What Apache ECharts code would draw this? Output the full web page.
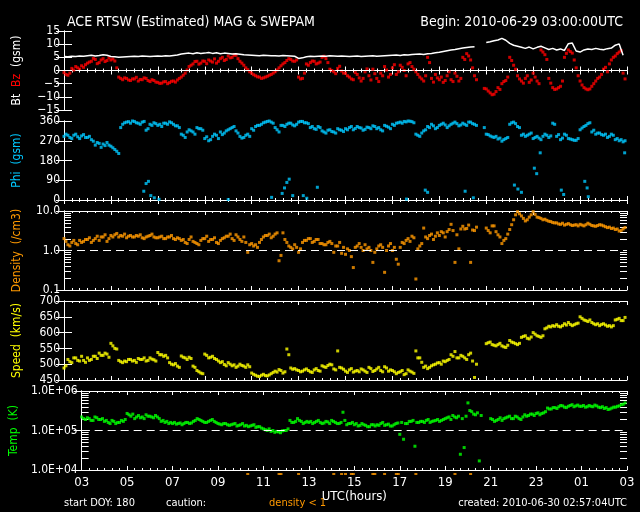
<!DOCTYPE html>
<html><head><meta charset="utf-8">
<script src="https://cdn.jsdelivr.net/npm/echarts@6/dist/echarts.min.js"></script>
<style>html,body{margin:0;padding:0;background:#000}#c{width:640px;height:512px}</style>
</head><body><div id="c"></div>
<script>
// x: hours since 2010-06-29 03:00 UTC. Bt: one value per 10 min; others: one value per 5 min
const hourLabels = ['03','05','07','09','11','13','15','17','19','21','23','01','03'];
const bt = [
5.3,5.2,5.4,5.3,5.5,5.4, 5.6,5.8,5.5,5.7,6.0,5.8, 5.3,5.2,5.0,5.1,5.2,5.3, 5.4,5.3,5.5,5.4,5.3,5.4,
5.5,5.4,5.6,5.5,5.7,5.9, 6.3,6.5,6.6,6.4,6.7,6.5, 6.6,6.8,6.5,6.7,6.4,6.6, 6.5,6.3,6.4,6.2,6.0,5.9,
5.8,5.7,5.6,5.8,5.7,5.6, 5.6,5.5,5.7,5.6,5.5,5.4, 4.6,4.8,5.2,5.4,5.3,5.4, 5.5,5.4,5.6,5.5,5.4,5.5,
5.4,5.3,5.4,5.5,5.3,5.4, 5.5,5.6,5.4,5.5,5.6,5.7, 5.8,5.9,5.7,6.0,5.9,6.1, 6.2,6.3,6.1,6.4,6.5,6.7,
6.9,7.2,7.5,7.8,8.0,8.3, 8.5,8.7,8.9,9.0,null,null, 10.6,10.9,11.3,11.6,12.2,11.5, 10.3,9.6,9.2,8.8,8.4,8.9,
8.2,8.8,9.2,8.6,8.0,8.4, 7.8,8.2,7.6,10.2,10.4,7.4, 7.0,7.8,8.2,8.0,8.4,8.1, 7.9,8.3,8.5,9.6,10.1,5.8];
const bz = [
-0.8,-1.5,-1.8,-1.0,0.8,0.2,1.5,1.0,0.5,1.8,1.2,2.2,
2.8,3.2,3.5,4.6,4.2,2.6,3.0,4.0,4.5,3.4,3.8,4.8,
4.0,4.4,3.6,1.0,-2.5,-3.0,-3.5,-2.8,-3.0,-3.6,-3.8,-3.2,
-3.2,-2.6,-4.0,-3.4,-3.5,-2.8,-3.0,-3.8,-4.2,-3.5,-3.8,-4.4,
-4.5,-4.9,-4.8,-4.3,-4.2,-5.0,-4.6,-4.1,-4.0,-4.4,-3.6,-3.0,
-2.5,-1.8,-1.0,0.2,1.5,2.0,2.5,3.4,3.5,2.4,2.8,3.6,
3.5,2.6,4.0,3.6,3.2,4.4,2.8,3.5,4.5,5.0,3.8,4.2,
5.5,4.8,5.0,5.8,5.8,4.5,3.5,2.8,2.0,1.0,0.3,-0.5,
-1.0,-1.6,-2.0,-2.4,-2.5,-3.0,-2.8,-2.5,-2.2,-1.8,-1.5,-1.0,
-0.5,0.2,1.0,1.8,2.5,3.0,3.8,4.5,4.2,3.6,3.5,4.0,
-2.5,-3.2,-3.0,-1.0,2.5,2.0,3.0,3.6,3.5,2.5,2.8,3.2,
5.0,5.4,4.5,3.0,0.5,0.0,-0.5,-1.2,0.8,1.6,-0.2,-1.0,
-1.0,-2.0,-2.5,-3.2,-3.5,-0.8,-1.5,-2.8,-4.0,-3.0,-0.5,0.6,
-2.0,-3.6,0.5,-1.2,-3.0,-4.2,-1.0,-2.0,1.5,0.2,-2.5,-1.5,
1.0,2.2,-1.5,-0.5,2.0,1.2,0.0,-2.0,2.5,3.0,1.5,0.5,
-0.5,-1.5,-2.5,-3.2,-4.0,-2.0,5.0,3.0,-3.0,-4.4,-1.5,-2.8,
-3.5,-2.5,-4.5,-3.8,-2.0,-0.5,-3.5,-4.2,-1.0,-2.2,-4.0,-3.0,
5.0,4.2,6.4,5.5,4.0,1.0,-2.0,-3.5,null,null,null,-6.8,
-7.0,-7.8,-8.5,-9.2,-9.0,-8.0,-6.5,-7.2,-5.0,-4.2,-3.8,-2.5,
5.0,3.8,2.0,0.5,-2.0,-3.2,-4.0,-4.8,-3.0,-2.0,-4.5,-3.6,
-1.0,-2.5,-4.0,-5.0,7.8,7.0,6.0,4.2,-3.0,-4.8,-6.5,-7.2,
-7.0,-6.5,-6.0,-4.0,5.0,6.5,7.8,7.2,6.6,4.0,1.0,-2.0,
-4.0,-5.5,-6.5,-7.0,-7.3,-7.0,-6.0,-5.0,-4.0,-3.0,-2.5,-1.5,
0.5,1.2,-0.5,2.5,4.0,5.0,5.5,6.4,7.0,7.6,-1.0,-3.2];
const phi = [
290,300,295,285,280,295,300,288,280,292,298,285,
285,290,275,268,250,262,258,240,255,248,262,250,
245,238,230,222,212,330,345,352,355,357,350,360,
358,352,350,345,355,358,318,325,345,340,352,348,
340,345,335,350,350,345,356,352,345,338,338,330,
300,295,285,310,320,315,310,300,330,325,325,318,
280,288,270,275,290,300,295,280,310,298,305,315,
320,325,330,335,315,305,290,282,285,295,300,290,
325,318,335,340,340,345,352,355,358,360,355,350,
330,320,310,340,340,335,345,350,350,342,338,345,
355,358,358,352,352,348,330,335,325,322,335,330,
315,310,305,318,320,312,310,305,325,320,318,312,
325,320,330,335,320,326,335,330,328,318,322,332,
330,325,338,335,325,330,320,315,340,336,332,325,
345,340,350,352,355,350,358,356,360,359,357,352,
300,295,290,305,315,320,335,330,345,338,325,330,
340,345,350,342,330,338,345,350,355,348,338,342,
350,345,340,355,355,348,345,340,null,null,null,330,
300,298,292,288,285,290,278,282,268,275,280,285,
345,352,355,348,335,330,295,300,290,295,300,305,
280,285,290,282,275,290,300,295,285,292,350,345,
290,298,275,282,300,295,280,278,275,272,272,280,
320,328,335,340,348,352,310,318,300,305,305,298,
295,300,285,290,300,295,275,280,270,275,265,270];
const phiWrapHours  = [3.4,3.5,3.6,3.7,3.85,4.05,7.0,8.85,9.3,9.4,9.5,9.6,9.75,10.2,10.35,10.8,14.6,15.4,15.5,17.1,17.45,19.2,19.35,19.5,20.05,20.15,20.3,21.2,21.3,22.2,22.3,22.35,23.9];
const phiWrapValues = [40,75,85,20,10,3,2,12,30,55,80,95,20,20,8,58,4,45,35,40,10,68,50,35,145,120,215,45,25,85,55,15,215];
const density = [
2.0,1.7,1.4,1.3,1.6,1.8,1.5,1.4,1.8,1.6,1.7,1.9,
1.9,2.1,1.6,1.8,2.0,2.3,1.8,2.2,2.2,2.5,1.7,2.0,
2.4,2.2,2.5,2.7,2.2,2.4,2.3,2.6,2.1,2.3,2.4,2.2,
2.2,2.4,2.3,2.5,2.1,2.0,2.2,2.3,2.4,2.6,2.2,2.1,
2.1,2.2,2.3,2.0,2.0,2.2,2.2,2.4,2.0,1.9,2.1,2.0,
1.8,1.9,1.6,1.5,1.9,2.2,1.7,1.6,1.5,1.4,1.8,2.0,
2.0,2.3,1.7,1.9,1.9,2.1,1.6,1.5,1.8,2.0,2.1,2.3,
2.3,2.6,2.0,1.8,2.5,2.2,1.9,1.7,2.2,1.6,0.9,1.4,
1.5,1.3,1.4,1.2,1.6,1.9,2.2,2.4,2.4,2.6,2.1,2.3,
2.6,2.8,0.55,0.75,2.8,1.9,1.6,1.3,1.2,1.1,1.4,1.2,
0.9,1.1,1.6,1.8,1.8,2.0,2.0,1.6,1.7,1.9,1.9,1.5,
1.5,1.4,1.4,1.6,1.7,1.5,0.9,1.3,1.3,1.6,0.85,1.2,
0.8,1.1,1.0,0.7,0.37,1.2,1.3,1.5,1.2,1.0,1.4,1.1,
1.2,1.0,0.5,0.9,1.1,1.3,1.4,1.2,0.28,1.0,1.3,1.5,
1.0,1.2,0.6,0.45,1.2,1.6,1.5,1.8,2.0,1.7,2.3,2.1,
0.19,1.1,1.3,1.5,3.7,2.2,2.0,2.4,2.6,1.9,2.3,2.8,
2.4,3.0,2.8,2.2,3.0,3.4,4.6,3.2,0.5,2.5,1.1,3.5,
4.1,3.5,3.6,4.4,0.5,3.3,3.2,3.9,null,null,null,null,
3.7,3.2,2.8,4.2,4.2,3.0,2.5,2.2,1.5,1.8,2.0,2.6,
3.4,4.5,6.0,8.0,9.6,8.5,7.5,6.5,5.6,6.0,7.0,8.0,
9.6,8.2,7.0,6.8,6.5,6.0,6.2,5.8,5.5,5.4,5.1,5.0,
5.0,4.7,4.6,4.9,4.4,4.6,4.8,4.5,4.3,4.4,4.5,4.2,
4.6,4.4,4.2,4.5,4.9,4.6,4.3,4.2,4.1,4.3,4.5,4.4,
4.2,4.0,3.8,3.9,3.6,3.7,3.4,3.5,3.1,3.2,3.5,3.8];
const speed = [
488,495,515,508,505,520,520,512,510,525,512,506,
520,512,515,525,525,518,535,528,528,535,532,522,
566,558,550,548,512,508,505,510,508,515,515,510,
512,506,518,515,515,520,510,512,520,516,514,510,
537,530,530,525,528,520,505,500,498,502,494,490,
526,522,520,515,522,518,494,490,480,476,472,470,
532,528,520,522,525,518,515,510,505,508,499,495,
505,500,495,498,490,494,500,496,494,490,498,492,
472,468,465,462,461,465,468,464,463,466,470,474,
478,475,483,480,472,476,548,530,488,484,486,482,
480,476,478,482,485,480,476,474,482,486,480,478,
495,492,490,496,500,498,485,482,542,490,488,484,
478,474,482,486,475,478,480,476,485,482,478,474,
490,486,477,480,485,490,480,476,492,488,478,482,
480,476,470,474,476,480,467,470,482,478,475,471,
542,520,520,506,490,494,486,490,495,498,500,504,
505,500,510,508,512,515,530,525,540,520,520,528,
525,520,515,530,535,510,458,500,null,null,null,null,
565,568,570,562,560,558,562,566,558,555,553,560,
575,570,568,565,562,566,585,588,590,582,580,586,
600,595,590,588,585,590,612,615,620,618,622,620,
625,620,618,622,628,624,632,626,622,625,628,630,
650,645,640,638,635,640,632,628,625,628,622,626,
628,624,620,622,618,622,640,642,645,638,638,648];
const temp = [
2.2e5,2.0e5,1.9e5,2.1e5,2.0e5,1.8e5,1.8e5,2.2e5,2.1e5,1.9e5,1.9e5,2.0e5,
1.7e5,1.8e5,1.6e5,1.5e5,1.8e5,1.7e5,1.5e5,1.6e5,1.6e5,1.8e5,1.7e5,1.9e5,
2.7e5,2.5e5,2.3e5,2.6e5,2.0e5,2.2e5,2.4e5,2.1e5,2.2e5,2.0e5,2.5e5,2.3e5,
2.3e5,2.2e5,2.1e5,2.4e5,2.2e5,2.0e5,1.7e5,1.8e5,1.6e5,1.7e5,1.5e5,1.6e5,
1.5e5,1.6e5,1.45e5,1.5e5,1.55e5,1.4e5,1.5e5,1.6e5,1.6e5,1.5e5,1.55e5,1.7e5,
1.8e5,2.0e5,1.9e5,1.8e5,1.7e5,1.6e5,1.6e5,1.7e5,1.8e5,1.9e5,1.7e5,1.6e5,
1.5e5,1.45e5,1.4e5,1.5e5,1.5e5,1.4e5,1.35e5,1.4e5,1.45e5,1.5e5,1.3e5,1.35e5,
1.4e5,1.5e5,1.3e5,1.35e5,1.25e5,1.3e5,1.35e5,1.4e5,1.2e5,1.25e5,1.25e5,1.15e5,
1.1e5,1.05e5,1.0e5,1.1e5,0.95e5,1.0e5,0.9e5,0.95e5,0.92e5,0.88e5,0.98e5,1.0e5,
1.0e5,1.1e5,1.8e5,1.6e5,1.6e5,1.7e5,2.0e5,1.8e5,1.7e5,1.5e5,1.6e5,1.7e5,
1.6e5,1.7e5,1.5e5,1.6e5,1.7e5,1.8e5,1.6e5,1.5e5,1.55e5,1.7e5,1.65e5,1.5e5,
1.8e5,1.7e5,1.6e5,1.5e5,1.5e5,1.6e5,2.9e5,1.8e5,1.4e5,1.5e5,1.5e5,1.6e5,
1.4e5,1.5e5,1.3e5,1.35e5,1.5e5,1.4e5,1.35e5,1.25e5,1.25e5,1.4e5,1.4e5,1.3e5,
1.4e5,1.35e5,1.5e5,1.6e5,1.35e5,1.4e5,1.45e5,1.3e5,1.3e5,1.4e5,1.5e5,1.55e5,
0.8e5,1.6e5,0.6e5,1.5e5,1.5e5,1.7e5,1.7e5,1.8e5,0.4e5,1.6e5,1.6e5,1.7e5,
1.7e5,1.6e5,1.8e5,1.9e5,1.6e5,1.7e5,1.75e5,1.8e5,1.9e5,1.7e5,1.8e5,1.9e5,
2.0e5,2.1e5,2.2e5,1.9e5,2.4e5,2.2e5,2.1e5,2.3e5,0.25e5,2.0e5,0.37e5,2.3e5,
5.0e5,3.2e5,3.0e5,2.6e5,2.5e5,2.8e5,0.17e5,2.4e5,null,null,null,null,
2.0e5,1.9e5,1.7e5,1.8e5,1.9e5,2.1e5,1.8e5,2.0e5,2.1e5,2.2e5,2.3e5,2.0e5,
2.0e5,2.3e5,2.2e5,2.0e5,1.9e5,2.2e5,2.5e5,2.3e5,2.4e5,2.6e5,2.6e5,2.4e5,
2.7e5,2.8e5,2.5e5,2.7e5,2.8e5,3.0e5,3.7e5,3.5e5,3.5e5,3.8e5,3.8e5,3.6e5,
4.0e5,4.3e5,4.2e5,3.9e5,3.8e5,4.1e5,4.3e5,4.5e5,4.0e5,4.2e5,4.4e5,4.1e5,
4.1e5,4.3e5,3.9e5,4.0e5,4.3e5,4.1e5,4.0e5,4.4e5,4.2e5,3.9e5,3.8e5,4.0e5,
3.6e5,3.8e5,3.4e5,3.5e5,3.7e5,3.9e5,3.9e5,4.1e5,4.2e5,4.5e5,4.6e5,5.0e5];
const densityTickLabels = {'0.1':'0.1','1':'1.0','10':'10.0'};
const tempTickLabels = {'10000':'1.0E+04','100000':'1.0E+05','1000000':'1.0E+06'};
const logMantissas = [2,3,4,5,6,7,8,9];

const STEP10 = 1/6, STEP5 = 1/12;
const pts = (arr, st) => arr.map((v,i)=>[i*st, v]).filter(p=>p[1]!=null);
const linePts = (arr, st) => arr.map((v,i)=>[i*st, v==null?'-':v]);

const FONT = "'Liberation Sans Narrow','DejaVu Sans Condensed','Liberation Sans',sans-serif";
const L=64, R=13, H=79, tops=[31,121,211,301,391];
const W='#fff';
const grids = tops.map(t=>({left:L, right:R, top:t, height:H, show:false}));
grids.push({left:L, right:R, top:472, height:4, show:false});

const xAxis=[], yAxis=[];
for (let i=0;i<5;i++){
  const base = {gridIndex:i, type:'value', min:0, max:24, interval:2,
    axisLine:{show:true, lineStyle:{color:W, width:1}},
    axisTick:{show:true, inside:true, length:4, lineStyle:{color:W}},
    minorTick:{show:true, splitNumber:6, length:2, lineStyle:{color:W}},
    splitLine:{show:false}, minorSplitLine:{show:false}};
  xAxis.push(Object.assign({}, base, {position:'bottom',
    axisLabel:{show:i===4, color:W, fontFamily:FONT, fontSize:13, margin:6, formatter:v=>hourLabels[Math.round(v/2)]},
    name:i===4?'UTC(hours)':'', nameLocation:'middle', nameGap:19,
    nameTextStyle:{color:W, fontFamily:FONT, fontSize:13}}));
  xAxis.push(Object.assign({}, base, {position:'top', axisLabel:{show:false}}));
}
xAxis.push({gridIndex:5, type:'value', min:0, max:24, show:false});

const panels = [
  {type:'value', min:-15, max:15, interval:5, name:'{w|Bt}  {r|Bz}  {w|(gsm)}', fmt:v=>String(v).replace('-','\u2212')},
  {type:'value', min:0, max:360, interval:90, name:'{c|Phi}  {c|(gsm)}', fmt:v=>String(v)},
  {type:'log', min:0.1, max:10, name:'{o|Density}  {o|(/cm3)}', fmt:v=>densityTickLabels[String(+v.toPrecision(3))]||''},
  {type:'value', min:450, max:700, interval:50, name:'{y|Speed}  {y|(km/s)}', fmt:v=>String(v)},
  {type:'log', min:1e4, max:1e6, name:'{g|Temp}  {g|(K)}', fmt:v=>tempTickLabels[String(Math.round(v))]||''}
];
const rich = {w:{color:'#fff'}, r:{color:'#ff0000'}, c:{color:'#00c8ff'}, o:{color:'#ff9900'}, y:{color:'#ffff00'}, g:{color:'#00ff00'}};
Object.values(rich).forEach(s=>{s.fontFamily=FONT; s.fontSize=12;});
panels.forEach((p,i)=>{
  const base = {gridIndex:i, type:p.type, min:p.min, max:p.max,
    axisLine:{show:true, lineStyle:{color:W, width:1}},
    axisTick:{show:true, inside:true, length:8, lineStyle:{color:W}},
    splitLine:{show:false}};
  if (p.interval) base.interval = p.interval;
  if (p.type==='log') base.logBase = 10;
  yAxis.push(Object.assign({}, base, {position:'left',
    axisLabel:{color:W, fontFamily:FONT, fontSize:12, margin:4, formatter:p.fmt},
    name:p.name, nameLocation:'middle', nameGap:41, nameRotate:90,
    nameTextStyle:{rich:rich, fontFamily:FONT, fontSize:12}}));
  yAxis.push(Object.assign({}, base, {position:'right', axisLabel:{show:false}}));
});
yAxis.push({gridIndex:5, type:'value', min:0, max:1, show:false});

const dash = v => ({symbol:'none', silent:true, label:{show:false},
  lineStyle:{color:W, type:[8,5], width:1}, data:[{yAxis:v}]});
const sc = (xi, yi, data, color, extra) => Object.assign({type:'scatter', xAxisIndex:xi, yAxisIndex:yi,
  data, symbol:'rect', symbolSize:3, itemStyle:{color}, silent:true, animation:false}, extra||{});

const minorTicks = (yi, vals) => ({type:'custom', xAxisIndex:yi, yAxisIndex:yi, silent:true, animation:false, clip:false,
  data: vals.map(v=>[0,v]), encode:{x:0,y:1},
  renderItem:(params, api)=>{
    const v = api.value(1);
    const a = api.coord([0, v]), b = api.coord([24, v]);
    const st = {stroke:W, lineWidth:1};
    return {type:'group', children:[
      {type:'line', shape:{x1:a[0], y1:Math.round(a[1])+0.5, x2:a[0]+7, y2:Math.round(a[1])+0.5}, style:st},
      {type:'line', shape:{x1:b[0]-7, y1:Math.round(b[1])+0.5, x2:b[0], y2:Math.round(b[1])+0.5}, style:st}
    ]};
  }});

const densityMinor = [0.1,1].flatMap(d=>logMantissas.map(m=>m*d));
const tempMinor = [1e4,1e5].flatMap(d=>logMantissas.map(m=>m*d));
const caution = pts(density, STEP5).filter(p=>p[1]<1).map(p=>[p[0],0.5]);

const series = [
  sc(0,0,pts(bz,STEP5),'#ff0000',{markLine:dash(0)}),
  {type:'line', xAxisIndex:0, yAxisIndex:0, data:linePts(bt,STEP10), showSymbol:false, symbol:'none',
    lineStyle:{color:'#fff', width:1.5}, connectNulls:false, silent:true, animation:false},
  sc(2,2,pts(phi,STEP5),'#00c8ff'),
  sc(2,2,phiWrapHours.map((h,i)=>[h, phiWrapValues[i]]),'#00c8ff'),
  sc(4,4,pts(density,STEP5),'#ff9900',{markLine:dash(1)}),
  sc(6,6,pts(speed,STEP5),'#ffff00'),
  sc(8,8,pts(temp,STEP5),'#00ff00',{markLine:dash(1e5)}),
  minorTicks(4, densityMinor),
  minorTicks(8, tempMinor),
  sc(10,10,caution,'#ff9900',{symbolSize:[3,2]})
];

const chart = echarts.init(document.getElementById('c'), null, {renderer:'canvas'});
chart.setOption({
  backgroundColor:'#000',
  animation:false,
  title:[
    {text:'ACE RTSW (Estimated) MAG & SWEPAM', left:62, top:10, textStyle:{color:W, fontFamily:FONT, fontSize:14, fontWeight:'normal'}},
    {text:'Begin: 2010-06-29 03:00:00UTC', right:12, top:10, textStyle:{color:W, fontFamily:FONT, fontSize:14, fontWeight:'normal'}}
  ],
  grid:grids, xAxis, yAxis, series,
  graphic:[
    {type:'text', left:64, top:498, style:{text:'start DOY: 180', fill:W, font:'11px '+FONT}},
    {type:'text', left:166, top:498, style:{text:'caution:', fill:W, font:'11px '+FONT}},
    {type:'text', left:269, top:498, style:{text:'density < 1', fill:'#ff9900', font:'11px '+FONT}},
    {type:'text', right:13, top:498, style:{text:'created: 2010-06-30 02:57:04UTC', fill:W, font:'11px '+FONT}}
  ]
});
</script></body></html>
